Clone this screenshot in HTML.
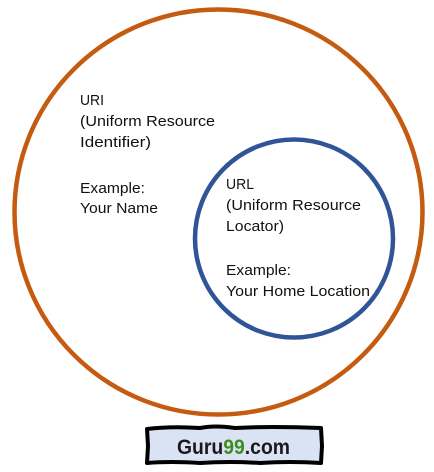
<!DOCTYPE html>
<html><head><meta charset="utf-8"><style>
html,body{margin:0;padding:0;background:#fff;}
svg{display:block;}
text{font-family:"Liberation Sans",sans-serif;font-size:15px;fill:#111;}
</style></head><body>
<svg width="434" height="472" viewBox="0 0 434 472" xmlns="http://www.w3.org/2000/svg">
<ellipse cx="218.5" cy="212" rx="204" ry="202.5" fill="none" stroke="#c55a11" stroke-width="4.5"/>
<circle cx="294" cy="238.5" r="99" fill="none" stroke="#2f5597" stroke-width="4.5"/>
<text x="80" y="105" textLength="24" lengthAdjust="spacingAndGlyphs">URI</text>
<text x="80" y="126" textLength="135" lengthAdjust="spacingAndGlyphs">(Uniform Resource</text>
<text x="80" y="147" textLength="71" lengthAdjust="spacingAndGlyphs">Identifier)</text>
<text x="80" y="193" textLength="65" lengthAdjust="spacingAndGlyphs">Example:</text>
<text x="80" y="213" textLength="78" lengthAdjust="spacingAndGlyphs">Your Name</text>
<text x="226" y="189" textLength="28" lengthAdjust="spacingAndGlyphs">URL</text>
<text x="226" y="210" textLength="135" lengthAdjust="spacingAndGlyphs">(Uniform Resource</text>
<text x="226" y="231" textLength="58" lengthAdjust="spacingAndGlyphs">Locator)</text>
<text x="226" y="275" textLength="65" lengthAdjust="spacingAndGlyphs">Example:</text>
<text x="226" y="296" textLength="144" lengthAdjust="spacingAndGlyphs">Your Home Location</text>
<path d="M147,429 Q170,426 200,428 Q215,425 235,428 Q270,426 321,428 L322,446 L321,463 Q290,461 260,463 Q230,461 200,463 Q170,461 147,463 L148,446 Z" fill="#dae3f3" stroke="#000" stroke-width="4" stroke-linejoin="round"/>
<text x="177" y="454" textLength="113" lengthAdjust="spacingAndGlyphs" style="font-size:21px;font-weight:bold;fill:#1a1a1a">Guru<tspan fill="#3d8b22">99</tspan>.com</text>
</svg>
</body></html>
